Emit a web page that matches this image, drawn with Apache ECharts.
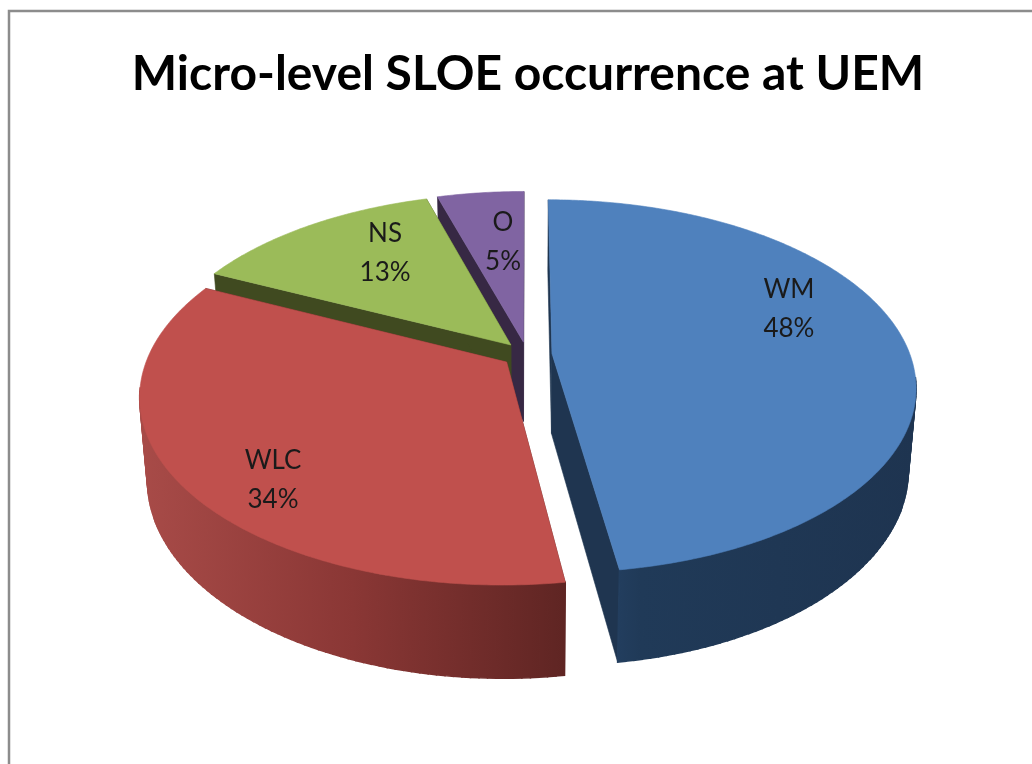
<!DOCTYPE html>
<html>
<head>
<meta charset="utf-8">
<style>html,body{margin:0;padding:0;background:#fff}#c{width:1032px;height:764px}</style>
<script src="https://cdn.jsdelivr.net/npm/echarts@6/dist/echarts.min.js"></script>
</head>
<body>
<div id="c"></div>
<script>
// Data
const chartTitle = 'Micro-level SLOE occurrence at UEM';
const categories = ['WM', 'WLC', 'NS', 'O'];
const shares = [47.7, 34.4, 13.3, 4.6];

// Styling, kept apart from the data
const topColors = ['#4f81bd', '#c0504d', '#9bbb59', '#8064a2'];
const radialWall = ['#1f3550', '#5f2523', '#404a20', '#372844'];
const outerWall = [
  [[0, '#2b4a72'], [0.25, '#203a58'], [1, '#1e3450']],
  [[0, '#a84b48'], [0.5, '#8a3735'], [1, '#5f2523']],
  [[0, '#404a20'], [1, '#404a20']],
  [[0, '#372844'], [1, '#372844']]
];
const paintRank = [2, 3, 1, 0];           // back slices first
const labelT = [0.402, 0.434, 0.63, 0.65]; // label position across the slice
const labelR = [0.746, 0.81, 0.701, 0.646]; // label radius as a share of slice radius

// Projection of the tilted disc
const view = { cx: 527, cy: 354.5, rx: 358, ry: 181, k: 0.175, depth: 80, bottomScale: 0.98, explode: 0.07 };

function project(u, v, bottom) {
  const w = 1 - view.k * v;
  const s = bottom ? view.bottomScale : 1;
  return [
    view.cx + s * view.rx * u / w,
    view.cy + s * view.ry * v / w + (bottom ? view.depth / w : 0)
  ];
}

const total = shares.reduce((a, b) => a + b, 0);

function renderSlice(params, api) {
  const i = params.dataIndex;
  const value = api.value(0);
  let before = 0;
  for (let j = 0; j < i; j++) before += shares[j];
  const a0 = before / total * 2 * Math.PI;
  const a1 = (before + value) / total * 2 * Math.PI;
  const mid = (a0 + a1) / 2;
  const ex = view.explode * Math.sin(mid);
  const ey = -view.explode * Math.cos(mid);
  const rim = (a, r) => [ex + (r === undefined ? 1 : r) * Math.sin(a), ey - (r === undefined ? 1 : r) * Math.cos(a)];

  const steps = Math.max(8, Math.round((a1 - a0) / 0.01));
  const arc = [];
  for (let s = 0; s <= steps; s++) arc.push(rim(a0 + (a1 - a0) * s / steps));

  const top = arc.map(p => project(p[0], p[1], false));
  const low = arc.map(p => project(p[0], p[1], true));
  const hubTop = project(ex, ey, false);
  const hubLow = project(ex, ey, true);
  const baseZ = 10 + paintRank[i] * 10;

  const poly = (points, fill, z, lineWidth) => ({
    type: 'polygon', z2: baseZ + z, shape: { points },
    style: { fill, stroke: fill, lineWidth: lineWidth || 0.6 }, silent: true
  });

  const xs = top.concat(low).map(p => p[0]);
  const minX = Math.min.apply(null, xs);
  const maxX = Math.max.apply(null, xs);
  const wallFill = {
    type: 'linear', global: true, x: minX, y: 0, x2: maxX, y2: 0,
    colorStops: outerWall[i].map(c => ({ offset: c[0], color: c[1] }))
  };

  const children = [
    poly([hubTop, top[0], low[0], hubLow], radialWall[i], 0),
    poly([hubTop, top[steps], low[steps], hubLow], radialWall[i], 1)
  ];
  // The curved wall is a ribbon of quads, drawn from the rim's widest point forward
  const wallStart = view.k * 0.8;
  for (let s = 0; s < steps; s += 2) {
    const e = Math.min(s + 2, steps);
    if (arc[s][1] - ey < wallStart && arc[e][1] - ey < wallStart) continue;
    children.push(poly([top[s], top[e], low[e], low[s]], wallFill, 2, 1.5));
  }
  children.push(poly([hubTop].concat(top), topColors[i], 3));

  const la = a0 + (a1 - a0) * labelT[i];
  const lp = rim(la, labelR[i]);
  const pos = project(lp[0], lp[1], false);
  children.push({
    type: 'text', z2: 100, silent: true, x: pos[0], y: pos[1] + 2,
    style: {
      text: categories[i] + '\n' + Math.round(value) + '%',
      fontFamily: 'Lato', fontSize: 26, lineHeight: 39,
      fill: '#1a1a1a', align: 'center', verticalAlign: 'middle'
    }
  });
  return { type: 'group', children };
}

const chart = echarts.init(document.getElementById('c'), null, { renderer: 'canvas' });
chart.setOption({
  animation: false,
  backgroundColor: '#ffffff',
  title: {
    text: chartTitle, left: 523, top: 46, textAlign: 'center',
    textStyle: { fontFamily: 'Lato', fontWeight: 'bold', fontSize: 48, color: '#000000' }
  },
  graphic: [{
    type: 'polyline', silent: true,
    shape: { points: [[9, 764], [9, 11], [1032, 11]] },
    style: { stroke: '#8c8c8c', lineWidth: 2.5, fill: null }
  }],
  series: [{
    type: 'custom',
    coordinateSystem: 'none',
    renderItem: renderSlice,
    data: categories.map((name, i) => ({ name, value: [shares[i]] }))
  }]
});
</script>
</body>
</html>
